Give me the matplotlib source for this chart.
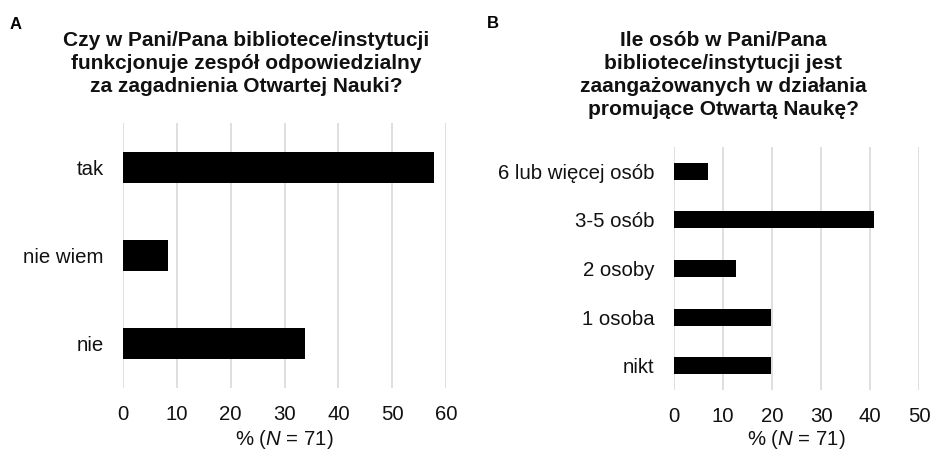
import matplotlib
matplotlib.use('Agg')
import matplotlib.pyplot as plt

plt.rcParams['font.family'] = ['Liberation Sans', 'DejaVu Sans']
plt.rcParams['mathtext.fontset'] = 'custom'
plt.rcParams['mathtext.rm'] = 'Liberation Sans'
plt.rcParams['mathtext.it'] = 'Liberation Sans:italic'

# dane (% z N = 71)
kategorie_a = ['nie', 'nie wiem', 'tak']
wartosci_a = [33.8, 8.45, 57.7]

kategorie_b = ['nikt', '1 osoba', '2 osoby', '3-5 osób', '6 lub więcej osób']
wartosci_b = [19.7, 19.7, 12.7, 40.8, 7.0]

tytul_a = 'Czy w Pani/Pana bibliotece/instytucji\nfunkcjonuje zespół odpowiedzialny\nza zagadnienia Otwartej Nauki?'
tytul_b = 'Ile osób w Pani/Pana\nbibliotece/instytucji jest\nzaangażowanych w działania\npromujące Otwartą Naukę?'
xlabel = r'% ($\mathit{N}$ = 71)'

W, H = 934, 455
fig = plt.figure(figsize=(W / 100, H / 100), dpi=100)


def panel(rect, kategorie, wartosci, xmax, lpad):
    ax = fig.add_axes(rect)
    y = range(len(kategorie))
    ax.barh(y, wartosci, height=0.35, color='black', zorder=3)
    ax.set_yticks(list(y))
    ax.set_yticklabels(kategorie)
    ax.set_ylim(-0.5, len(kategorie) - 0.5)
    ax.set_xlim(0, xmax)
    ax.set_xticks(range(0, xmax + 1, 10))
    ax.grid(axis='x', color='#d9d9d9', linewidth=1.2, zorder=0)
    ax.grid(axis='y', visible=False)
    for s in ax.spines.values():
        s.set_visible(False)
    ax.tick_params(axis='y', length=0, pad=14, labelsize=14.7, colors='#111111')
    ax.tick_params(axis='x', length=0, pad=12, labelsize=14.7, colors='#111111')
    ax.set_xlabel(xlabel, fontsize=14.7, labelpad=lpad, color='#111111')
    return ax


panel([123 / W, 1 - 388 / H, 323 / W, 265 / H], kategorie_a, wartosci_a, 60, 3)
panel([674 / W, 1 - 390 / H, 245 / W, 243 / H], kategorie_b, wartosci_b, 50, 1.5)

fig.text(246 / W, 1 - 31 / H, tytul_a, ha='center', va='top', fontsize=15,
         fontweight='bold', linespacing=1.27, color='#111111')
fig.text(723 / W, 1 - 31 / H, tytul_b, ha='center', va='top', fontsize=15,
         fontweight='bold', linespacing=1.27, color='#111111')

fig.text(10 / W, 1 - 17 / H, 'A', ha='left', va='top', fontsize=12, fontweight='bold')
fig.text(487 / W, 1 - 16 / H, 'B', ha='left', va='top', fontsize=12, fontweight='bold')

fig.savefig('out.png', dpi=100)
